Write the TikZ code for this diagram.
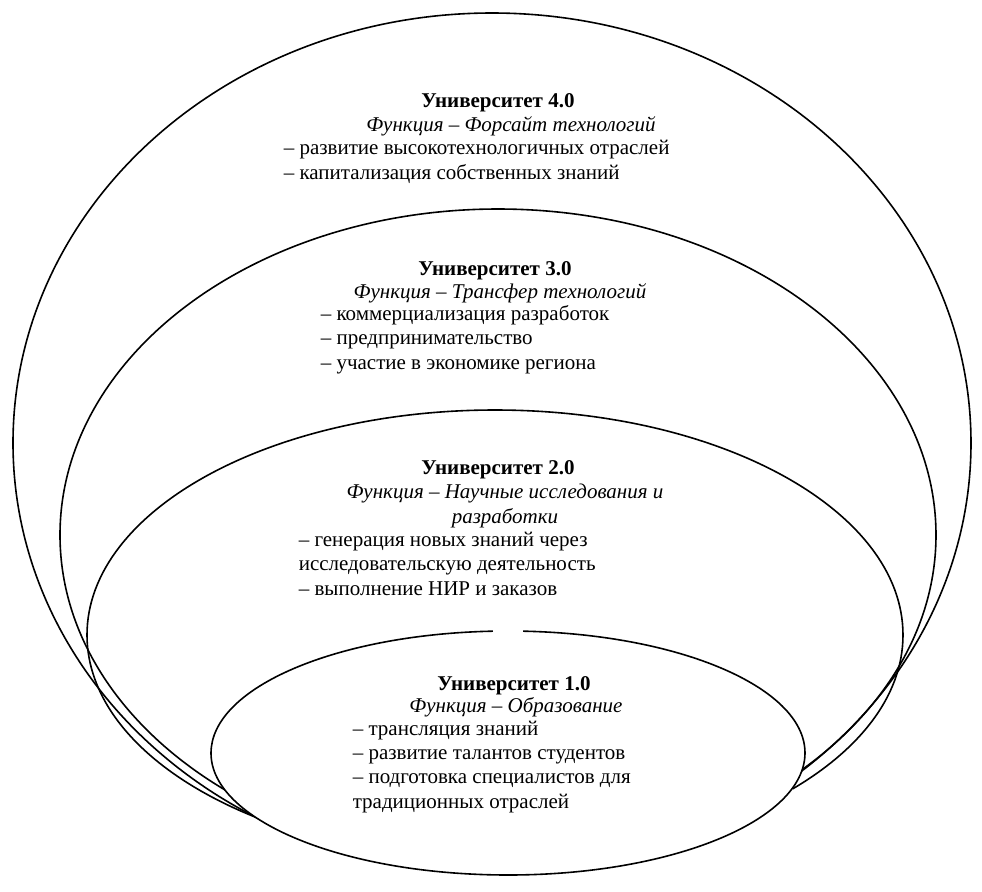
\documentclass[tikz,border=0pt]{standalone}
\usepackage{fontspec}
\setmainfont{Liberation Serif}

\begin{document}
\begin{tikzpicture}[x=0.5pt, y=-0.5pt, line width=0.8pt,
    every node/.style={font=\fontsize{10.5}{12.15}\selectfont, inner sep=0pt},
    title/.style={font=\fontsize{10.5}{12.15}\selectfont\bfseries, anchor=base},
    func/.style={font=\fontsize{10.5}{12.15}\selectfont\itshape, anchor=base, align=center},
    items/.style={anchor=base west, align=left}]
  \useasboundingbox (0,0) rectangle (982,891);
  % shells 4.0, 3.0, 2.0
  \draw (492,443) ellipse [x radius=479, y radius=430];
  \draw (498,535) ellipse [x radius=438, y radius=326];
  \draw (495,635) ellipse [x radius=408, y radius=225];
  % shell 1.0, white over the others, small gap at the top
  \fill[white] (508,753) ellipse [x radius=297, y radius=122];
  \fill[white] (257,753) rectangle (793,891);
  \draw (508,753) ++(-87.1:297 and 122)
    arc [start angle=-87.1, end angle=267.1, x radius=297, y radius=122];
  % 4.0 (multi-line nodes sit on their last baseline)
  \node[title] (t4) at (498,107) {Университет 4.0};
  \node[func] (f4) at (511,131) {Функция – Форсайт технологий};
  \node[items] (l4) at (283,179) {– развитие высокотехнологичных отраслей\\
    – капитализация собственных знаний};
  % 3.0
  \node[title] (t3) at (495,275) {Университет 3.0};
  \node[func] (f3) at (500,298) {Функция – Трансфер технологий};
  \node[items] (l3) at (320,369) {– коммерциализация разработок\\
    – предпринимательство\\
    – участие в экономике региона};
  % 2.0
  \node[title] (t2) at (498,474) {Университет 2.0};
  \node[func] (f2) at (505,523) {Функция – Научные исследования и\\разработки};
  \node[items] (l2) at (298,595) {– генерация новых знаний через\\
    исследовательскую деятельность\\
    – выполнение НИР и заказов};
  % 1.0
  \node[title] (t1) at (514,690) {Университет 1.0};
  \node[func] (f1) at (516,712) {Функция – Образование};
  \node[items] (l1) at (352,808) {– трансляция знаний\\
    – развитие талантов студентов\\
    – подготовка специалистов для\\
    традиционных отраслей};
\end{tikzpicture}
\end{document}
